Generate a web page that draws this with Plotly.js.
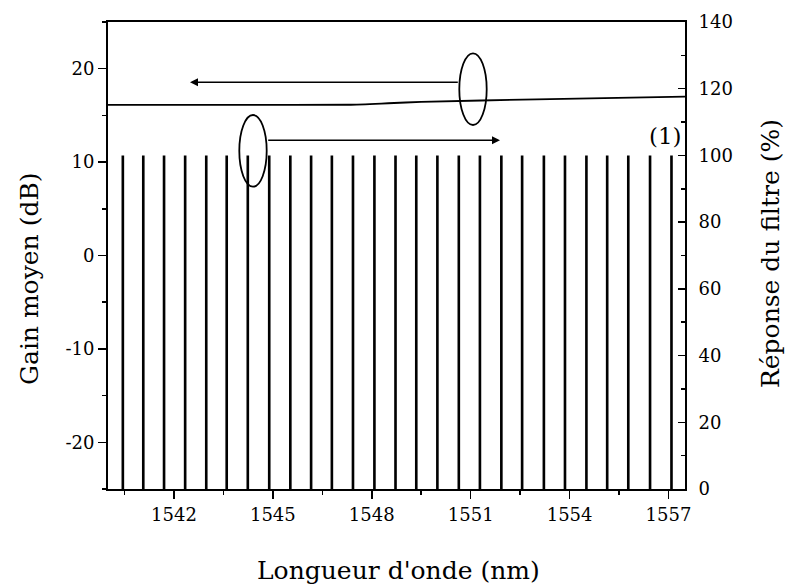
<!DOCTYPE html>
<html>
<head>
<meta charset="utf-8">
<script src="https://cdn.plot.ly/plotly-3.0.1.min.js"></script>
<style>html,body{margin:0;padding:0;background:#fff;}#chart{width:787px;height:588px;}</style>
</head>
<body>
<div id="chart"></div>
<script>
// Filter response peaks (wavelength in nm, response in %)
var peakWavelengths = [1540.45, 1541.07, 1541.70, 1542.34, 1542.98, 1543.60, 1544.24, 1544.89, 1545.53,
  1546.16, 1546.79, 1547.43, 1548.08, 1548.72, 1549.35, 1549.99, 1550.64, 1551.28, 1551.93,
  1552.56, 1553.22, 1553.86, 1554.51, 1555.14, 1555.78, 1556.44, 1557.09];
var peakResponse = [100, 100, 100, 100, 100, 100, 100, 100, 100,
  100, 100, 100, 100, 100, 100, 100, 100, 100, 100,
  100, 100, 100, 100, 100, 100, 100, 100];
// Average gain (dB)
var gainWavelengths = [1540, 1544, 1547.3, 1548.5, 1549.5, 1553, 1557.5];
var gainValues = [16.12, 16.12, 16.14, 16.30, 16.45, 16.72, 17.02];
// Tick labels
var gainTickVals = [-20, -10, 0, 10, 20];
var gainTickText = ['-20', '-10', '0', '10', '20'];

var FONT = 'DejaVu Serif, Liberation Serif, serif';

var traces = [
  {
    type: 'bar', x: peakWavelengths, y: peakResponse, yaxis: 'y2', width: 0.08,
    marker: {color: '#000', line: {width: 0}}, hoverinfo: 'skip'
  },
  {
    type: 'scatter', mode: 'lines', x: gainWavelengths, y: gainValues,
    line: {color: '#000', width: 1.8, shape: 'spline', smoothing: 0.6}, hoverinfo: 'skip'
  }
];

var px = function (p) { return (p - 108) / 577; };
var py = function (p) { return (489 - p) / 467; };

var layout = {
  width: 787, height: 588,
  margin: {l: 108, r: 102, t: 22, b: 99, pad: 0},
  paper_bgcolor: '#fff', plot_bgcolor: '#fff',
  showlegend: false,
  font: {family: FONT, color: '#000'},
  xaxis: {
    range: [1540, 1557.5], tick0: 1542, dtick: 3,
    ticks: 'outside', ticklen: 8, tickwidth: 1.5, tickcolor: '#000',
    showline: true, linewidth: 2, linecolor: '#000', mirror: true,
    showgrid: false, zeroline: false,
    tickfont: {family: FONT, size: 18, color: '#000'},
    minor: {tick0: 1540.5, dtick: 1.5, ticks: 'outside', ticklen: 4, tickwidth: 1.5, tickcolor: '#000', showgrid: false}
  },
  yaxis: {
    range: [-25, 25], tickmode: 'array', tickvals: gainTickVals, ticktext: gainTickText,
    ticks: 'outside', ticklen: 8, tickwidth: 1.5, tickcolor: '#000',
    showline: true, linewidth: 2, linecolor: '#000',
    showgrid: false, zeroline: false,
    tickfont: {family: FONT, size: 18, color: '#000'},
    minor: {tickmode: 'linear', tick0: 0, dtick: 5, ticks: 'outside', ticklen: 4, tickwidth: 1.5, tickcolor: '#000', showgrid: false}
  },
  yaxis2: {
    overlaying: 'y', side: 'right', range: [0, 140], tick0: 0, dtick: 20,
    ticks: 'inside', ticklen: 7, tickwidth: 1.5, tickcolor: '#000',
    showline: true, linewidth: 2, linecolor: '#000',
    showgrid: false, zeroline: false, ticklabelstandoff: 8,
    tickfont: {family: FONT, size: 18, color: '#000'},
    minor: {dtick: 10, ticks: 'inside', ticklen: 4, tickwidth: 1.5, tickcolor: '#000', showgrid: false}
  },
  shapes: [
    {type: 'circle', xref: 'paper', yref: 'paper', x0: px(459.3), x1: px(486.7), y0: py(125), y1: py(53.3),
      line: {color: '#000', width: 1.8}},
    {type: 'circle', xref: 'paper', yref: 'paper', x0: px(239.3), x1: px(266.7), y0: py(186.7), y1: py(115),
      line: {color: '#000', width: 1.8}}
  ],
  annotations: [
    {xref: 'paper', yref: 'paper', x: px(190), y: py(82.3), text: '', showarrow: true,
      axref: 'pixel', ayref: 'pixel', ax: 269.3, ay: 0, arrowhead: 2, arrowsize: 1, arrowwidth: 1.6,
      arrowcolor: '#000', standoff: 0, startstandoff: 0},
    {xref: 'paper', yref: 'paper', x: px(500), y: py(140.3), text: '', showarrow: true,
      axref: 'pixel', ayref: 'pixel', ax: -233.3, ay: 0, arrowhead: 2, arrowsize: 1, arrowwidth: 1.6,
      arrowcolor: '#000', standoff: 0, startstandoff: 0},
    {xref: 'paper', yref: 'paper', x: px(665), y: py(136), text: '(1)', showarrow: false,
      font: {family: FONT, size: 23, color: '#000'}, xanchor: 'center', yanchor: 'middle'},
    {xref: 'paper', yref: 'paper', x: px(398), y: py(570), text: "Longueur d'onde (nm)", showarrow: false,
      font: {family: FONT, size: 25, color: '#000'}, xanchor: 'center', yanchor: 'middle'},
    {xref: 'paper', yref: 'paper', x: px(30), y: py(279), text: 'Gain moyen (dB)', showarrow: false, textangle: -90,
      font: {family: FONT, size: 25, color: '#000'}, xanchor: 'center', yanchor: 'middle'},
    {xref: 'paper', yref: 'paper', x: px(770), y: py(254), text: 'Réponse du filtre (%)', showarrow: false, textangle: -90,
      font: {family: FONT, size: 25, color: '#000'}, xanchor: 'center', yanchor: 'middle'}
  ]
};

Plotly.newPlot('chart', traces, layout, {staticPlot: true, displayModeBar: false});
</script>
</body>
</html>
